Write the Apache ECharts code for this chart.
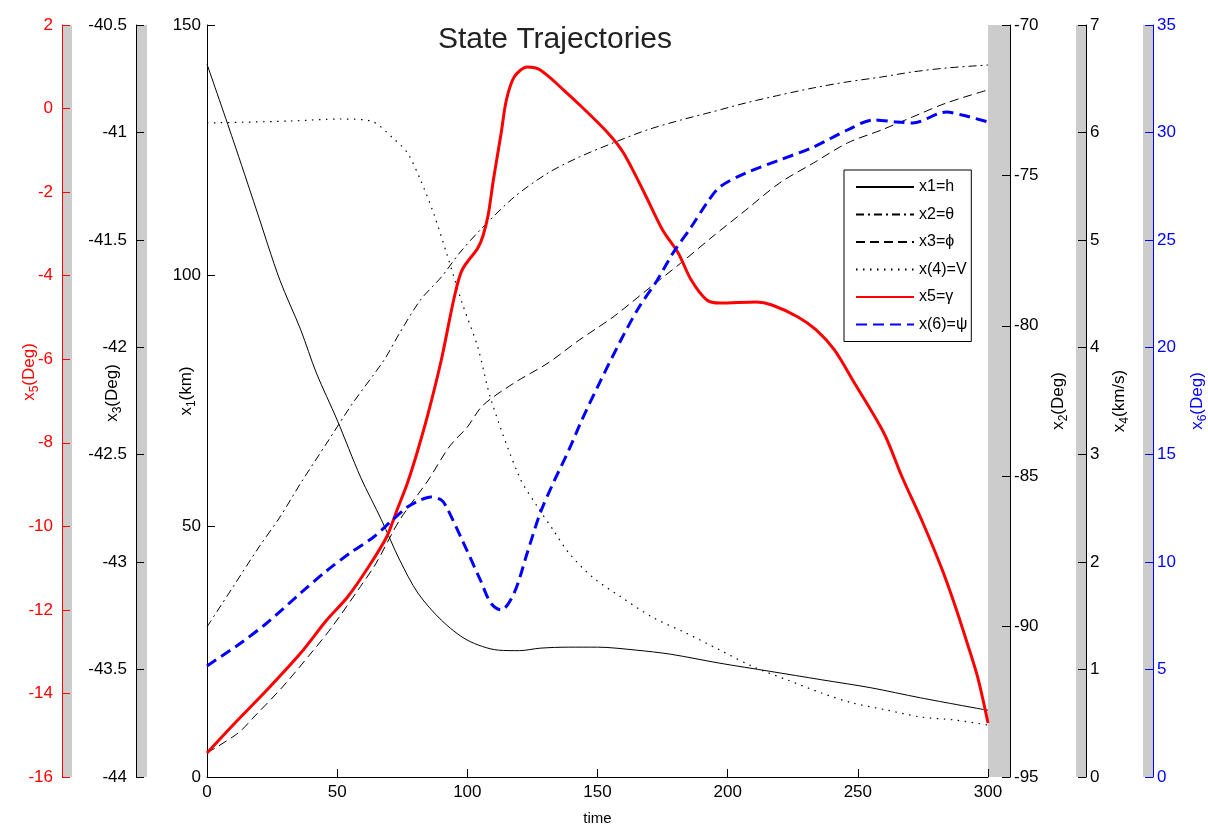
<!DOCTYPE html>
<html>
<head>
<meta charset="utf-8">
<script src="https://cdn.jsdelivr.net/npm/echarts@6/dist/echarts.min.js"></script>
<style>html,body{margin:0;padding:0;background:#fff}#c{width:1208px;height:826px}</style>
</head>
<body>
<div id="c"></div>
<script>
// ---- data (time in s) ----
const tX1 = [0,10,19,28,36,42,50,59,67,74,81,90,100,112,120,128,139,150,165,178,197,216,236,255,274,300];
const x1  = [142.2,127.1,113.1,99.1,89.2,80.6,71.2,59.8,51.3,43.3,36.7,31.3,27.3,25.3,25.2,25.7,25.9,25.9,25.3,24.5,22.7,21.1,19.4,17.8,15.8,13.3];

const tX2 = [0,10,20,28,36,46,56,68,74,82,90,97,105,118,131,143,156,169,182,194,207,220,233,246,259,271,284,300];
const x2  = [-90.01,-88.68,-87.35,-86.36,-85.23,-83.90,-82.57,-81.14,-80.24,-79.14,-78.38,-77.58,-76.81,-75.72,-74.92,-74.39,-73.92,-73.49,-73.16,-72.89,-72.59,-72.33,-72.09,-71.89,-71.73,-71.56,-71.43,-71.33];

const tX3 = [0,12,18,29,40,48,58,65,74,85,93,100,106,118,131,143,156,169,182,194,207,220,233,246,259,271,284,300];
const x3  = [-43.888,-43.795,-43.721,-43.581,-43.423,-43.302,-43.130,-43.004,-42.804,-42.618,-42.464,-42.371,-42.27,-42.166,-42.073,-41.966,-41.859,-41.733,-41.608,-41.487,-41.361,-41.235,-41.142,-41.049,-40.989,-40.928,-40.863,-40.802];

const tX4 = [0,32,51,63,71,77,82,87,92,98,104,109,120,127,133,139,148,159,171,184,197,210,223,236,248,261,274,287,300];
const x4  = [6.088,6.106,6.125,6.106,5.957,5.809,5.557,5.250,4.878,4.412,4.003,3.52,2.793,2.513,2.299,2.085,1.862,1.676,1.489,1.340,1.182,1.024,0.903,0.782,0.689,0.624,0.559,0.531,0.484];

const tX5 = [0,10,23,36,46,54,62,69,73,77,81,85,90,95,98,104,106,108,110,113,115,118,123,128,137,144,154,160,168,175,181,186,192,197,211,217,227,234,241,248,260,267,275,282,287,292,296,300];
const x5  = [-15.426,-14.755,-13.918,-13.032,-12.242,-11.691,-10.973,-10.255,-9.609,-8.963,-8.173,-7.287,-6.019,-4.511,-3.864,-3.34,-3.05,-2.55,-1.71,-0.585,0.205,0.755,0.995,0.923,0.444,0.037,-0.585,-1.064,-2.021,-2.907,-3.457,-4.104,-4.582,-4.654,-4.630,-4.702,-4.989,-5.300,-5.779,-6.497,-7.766,-8.819,-9.920,-10.973,-11.835,-12.793,-13.606,-14.707];

const tX6 = [0,13,23,36,46,55,64,70,77,82,86,90,92,98,105,109,113,118,123,128,133,139,144,150,159,166,173,179,186,192,197,207,220,233,246,256,265,271,284,290,300];
const x6  = [5.17,6.237,7.168,8.564,9.6,10.426,11.170,11.822,12.567,12.892,13.032,12.892,12.567,11.031,9.169,8.098,7.773,8.564,10.426,12.287,13.684,15.220,16.62,18.15,20.339,21.875,23.132,24.389,25.599,26.716,27.460,28.112,28.717,29.322,30.113,30.579,30.486,30.439,30.951,30.811,30.486];

const seriesNames = ['x1=h','x2=θ','x3=ϕ','x(4)=V','x5=γ','x(6)=ψ'];
const xTicks = {min:0, max:300, interval:50};

// ---- helpers ----
const FONT = 'Liberation Sans, Arial, sans-serif';
const pairs = (t, v) => t.map((x, i) => [x, v[i]]);
function axisName(sub, unit, color, shift) {
  return {
    name: '{a|x}{s|' + sub + '}{a|' + unit + '}',
    nameTextStyle: {
      color: color,
      padding: [0, 0, 0, shift || 0],
      rich: {
        a: {fontSize: 17, color: color, fontFamily: FONT, verticalAlign: 'middle', lineHeight: 24},
        s: {fontSize: 12, color: color, fontFamily: FONT, verticalAlign: 'bottom', lineHeight: 24}
      }
    }
  };
}
function yAx(o) {
  const color = o.color || '#000';
  const base = {
    type: 'value', position: o.pos, offset: o.offset,
    min: o.min, max: o.max, interval: o.interval,
    nameLocation: 'middle', nameGap: o.gap, nameRotate: 90, nameMoveOverlap: false,
    axisLine: {show: true, onZero: false, lineStyle: {color: color, width: 1}},
    axisTick: {show: true, inside: true, length: 8, lineStyle: {color: color}},
    axisLabel: {color: color, fontSize: 17, fontFamily: FONT, margin: o.margin},
    splitLine: {show: false},
    z: 3
  };
  return Object.assign(base, axisName(o.sub, o.unit, color, o.shift));
}

const chart = echarts.init(document.getElementById('c'), null, {renderer: 'canvas'});
const GRAY = '#cccccc';
const option = {
  animation: false,
  backgroundColor: '#ffffff',
  title: {
    text: 'State Trajectories', left: 433, top: 20,
    textStyle: {fontFamily: FONT, fontSize: 30, fontWeight: 'normal', color: '#222'}
  },
  grid: {left: 207, right: 220, top: 25, bottom: 49, containLabel: false, outerBoundsMode: 'none'},
  graphic: [
    {type: 'rect', z: -1, shape: {x: 62, y: 25, width: 10, height: 752}, style: {fill: GRAY}},
    {type: 'rect', z: -1, shape: {x: 136, y: 25, width: 11, height: 752}, style: {fill: GRAY}},
    {type: 'rect', z: -1, shape: {x: 988, y: 25, width: 22, height: 752}, style: {fill: GRAY}},
    {type: 'rect', z: -1, shape: {x: 1076, y: 25, width: 10, height: 752}, style: {fill: GRAY}},
    {type: 'rect', z: -1, shape: {x: 1143, y: 25, width: 10, height: 752}, style: {fill: GRAY}}
  ],
  legend: {
    orient: 'vertical', left: 844, top: 170,
    backgroundColor: '#fff', borderColor: '#000', borderWidth: 1,
    padding: [9, 4, 9, 11], itemWidth: 58, itemHeight: 16, itemGap: 11.5,
    itemStyle: {opacity: 0},
    textStyle: {fontFamily: FONT, fontSize: 16, color: '#000'},
    data: seriesNames
  },
  xAxis: {
    type: 'value', min: xTicks.min, max: xTicks.max, interval: xTicks.interval,
    name: 'time', nameLocation: 'middle', nameGap: 34, nameMoveOverlap: false,
    nameTextStyle: {fontFamily: FONT, fontSize: 15, color: '#000'},
    axisLine: {onZero: false, lineStyle: {color: '#000'}},
    axisTick: {inside: true, length: 8, lineStyle: {color: '#000'}},
    axisLabel: {fontFamily: FONT, fontSize: 17, color: '#000', margin: 7},
    splitLine: {show: false}
  },
  yAxis: [
    yAx({pos: 'left',  offset: 0,   min: 0,   max: 150,   interval: 50,  sub: '1', unit: '(km)',   gap: 9,  margin: 6, shift: 20}),
    yAx({pos: 'right', offset: 22,  min: -95, max: -70,   interval: 5,   sub: '2', unit: '(Deg)',  gap: 36, margin: 4}),
    yAx({pos: 'left',  offset: 71,  min: -44, max: -40.5, interval: 0.5, sub: '3', unit: '(Deg)',  gap: 12, margin: 9, shift: 16}),
    yAx({pos: 'right', offset: 98,  min: 0,   max: 7,     interval: 1,   sub: '4', unit: '(km/s)', gap: 21, margin: 4}),
    yAx({pos: 'left',  offset: 145, min: -16, max: 2,     interval: 2,   sub: '5', unit: '(Deg)',  gap: 21, margin: 9, shift: 58, color: '#ff0000'}),
    yAx({pos: 'right', offset: 165, min: 0,   max: 35,    interval: 5,   sub: '6', unit: '(Deg)',  gap: 32, margin: 4, color: '#0000ff'})
  ],
  series: [
    {name: seriesNames[0], type: 'line', yAxisIndex: 0, data: pairs(tX1, x1), showSymbol: false, symbol: 'none', smooth: 0.3,
     lineStyle: {color: '#000', width: 1}, itemStyle: {color: '#000'}},
    {name: seriesNames[1], type: 'line', yAxisIndex: 1, data: pairs(tX2, x2), showSymbol: false, symbol: 'none', smooth: 0.3,
     lineStyle: {color: '#000', width: 1, type: [8, 4, 2, 4]}, itemStyle: {color: '#000'}},
    {name: seriesNames[2], type: 'line', yAxisIndex: 2, data: pairs(tX3, x3), showSymbol: false, symbol: 'none', smooth: 0.3,
     lineStyle: {color: '#000', width: 1, type: [9, 5]}, itemStyle: {color: '#000'}},
    {name: seriesNames[3], type: 'line', yAxisIndex: 3, data: pairs(tX4, x4), showSymbol: false, symbol: 'none', smooth: 0.3,
     lineStyle: {color: '#000', width: 1.2, type: [1.5, 5.5]}, itemStyle: {color: '#000'}},
    {name: seriesNames[4], type: 'line', yAxisIndex: 4, data: pairs(tX5, x5), showSymbol: false, symbol: 'none', smooth: 0.3,
     lineStyle: {color: '#ff0000', width: 3}, itemStyle: {color: '#ff0000'}},
    {name: seriesNames[5], type: 'line', yAxisIndex: 5, data: pairs(tX6, x6), showSymbol: false, symbol: 'none', smooth: 0.3,
     lineStyle: {color: '#0000ff', width: 3, type: [11, 6]}, itemStyle: {color: '#0000ff'}}
  ]
};
chart.setOption(option);
</script>
</body>
</html>
